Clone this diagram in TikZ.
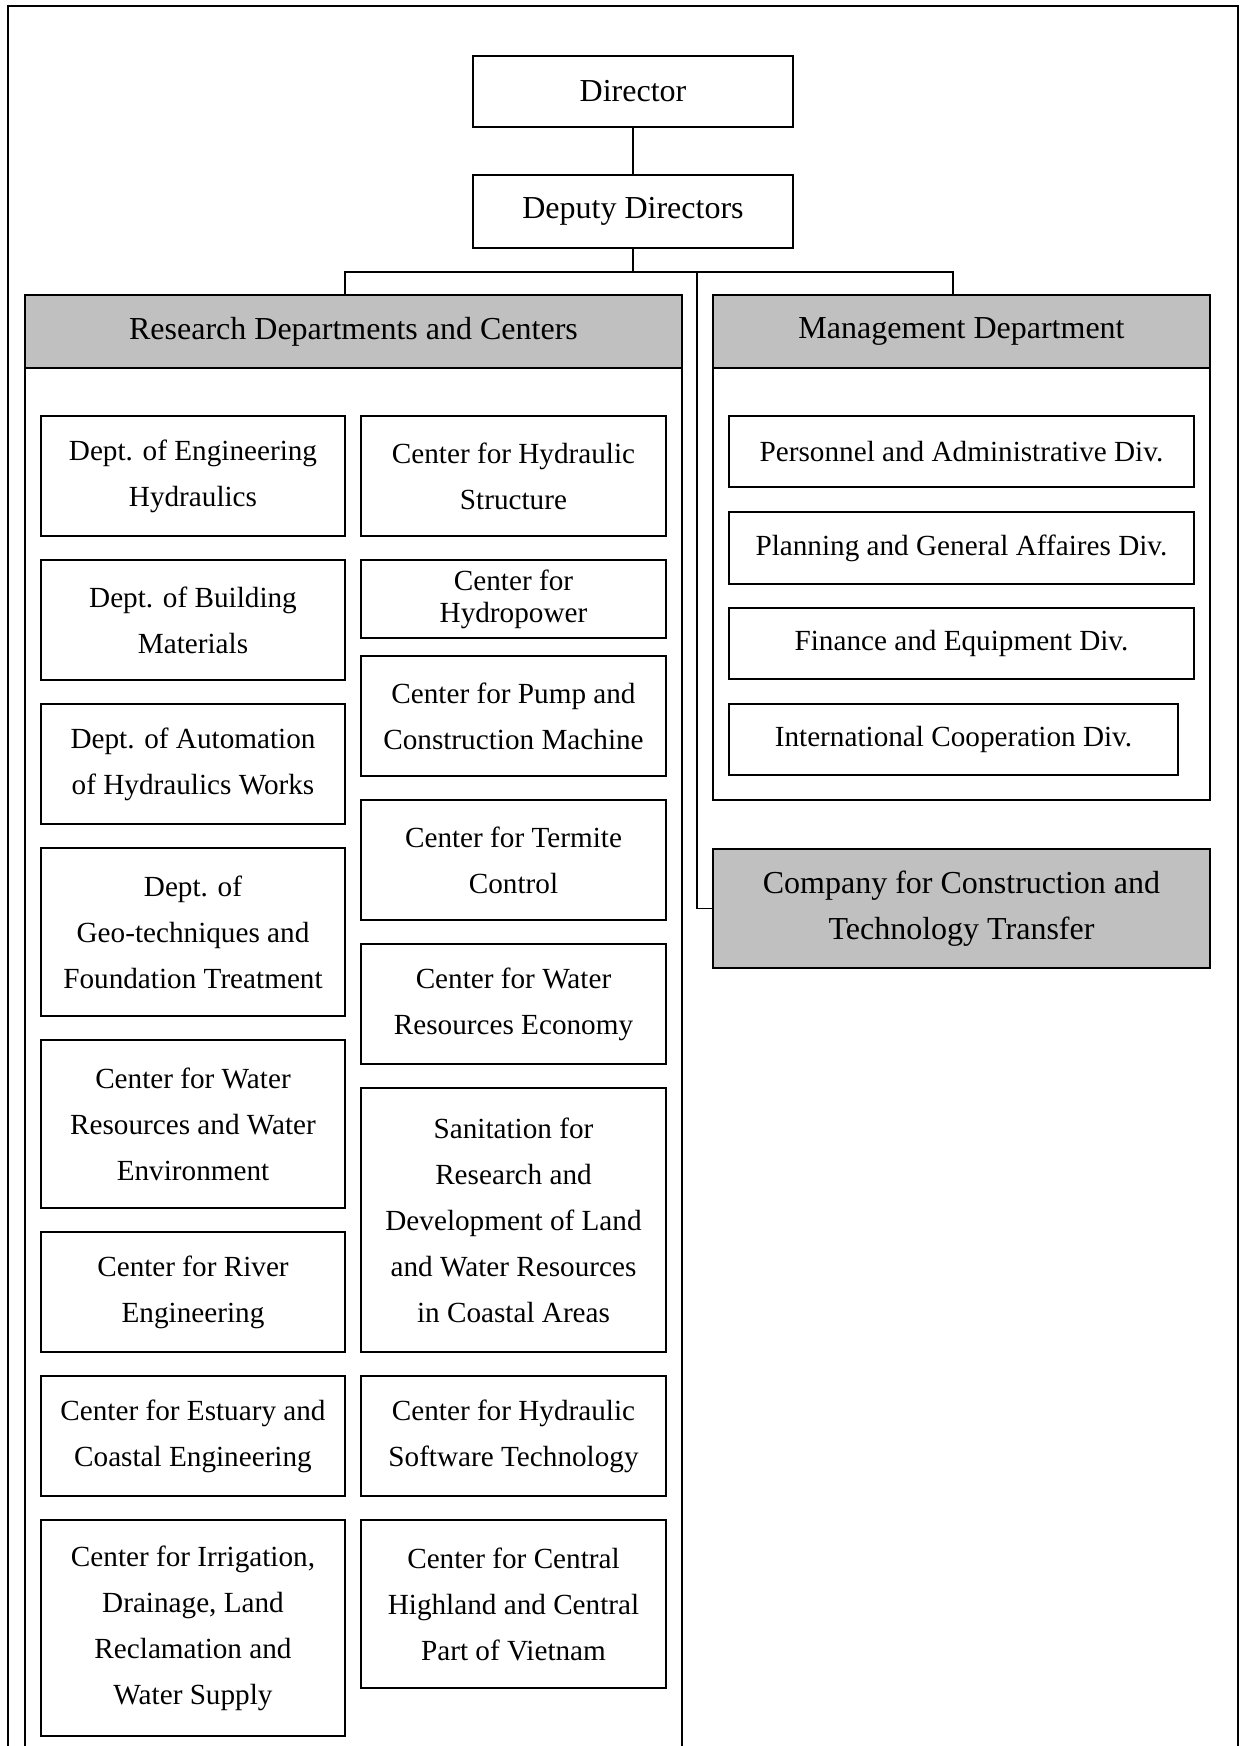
\documentclass[tikz,border=0pt]{standalone}
\usepackage{fontspec}
\setmainfont{Liberation Serif}
\tikzset{
  orgline/.style={line width=0.85pt, black},
  unit/.style={draw, orgline, fill=white, align=center, inner sep=0pt,
    font=\fontsize{14.6pt}{23pt}\selectfont},
  tightunit/.style={unit, font=\fontsize{14.6pt}{16pt}\selectfont},
  topunit/.style={unit, font=\fontsize{16pt}{23pt}\selectfont},
  headunit/.style={unit, fill=headgray, font=\fontsize{16pt}{23pt}\selectfont},
}
\definecolor{headgray}{HTML}{C0C0C0}
% box given by its corners: style, name, x1, y1, x2, y2, text
\newcommand{\orgbox}[7]{%
  \node[#1, minimum width={(#5-#3)*0.5pt}, minimum height={(#6-#4)*0.5pt}]
    (#2) at ({(#3+#5)/2},{(#4+#6)/2}) {#7};}
\begin{document}
\begin{tikzpicture}[x=0.5pt, y=-0.5pt]
  \useasboundingbox (0,0) rectangle (1241,1746);
  \fill[white] (0,0) rectangle (1241,1746);
  \clip (0,0) rectangle (1241,1746);

  % outer frame
  \draw[orgline] (8,1800) -- (8,6) -- (1238,6) -- (1238,1800);

  % top of the hierarchy
  \orgbox{topunit}{dir}{473}{56}{793}{127}{Director}
  \orgbox{topunit}{dep}{473}{175}{793}{248}{Deputy Directors}

  % research departments and centers
  \draw[orgline] (25,368) rectangle (682,1800);
  \orgbox{headunit}{reshead}{25}{295}{682}{368}{Research Departments and Centers}

  \orgbox{unit}{l1}{41}{416}{345}{536}{Dept. of Engineering\\Hydraulics}
  \orgbox{unit}{l2}{41}{560}{345}{680}{Dept. of Building\\Materials}
  \orgbox{unit}{l3}{41}{704}{345}{824}{Dept. of Automation\\of Hydraulics Works}
  \orgbox{unit}{l4}{41}{848}{345}{1016}{Dept. of\\Geo-techniques and\\Foundation Treatment}
  \orgbox{unit}{l5}{41}{1040}{345}{1208}{Center for Water\\Resources and Water\\Environment}
  \orgbox{unit}{l6}{41}{1232}{345}{1352}{Center for River\\Engineering}
  \orgbox{unit}{l7}{41}{1376}{345}{1496}{Center for Estuary and\\Coastal Engineering}
  \orgbox{unit}{l8}{41}{1520}{345}{1736}{Center for Irrigation,\\Drainage, Land\\Reclamation and\\Water Supply}

  \orgbox{unit}{r1}{361}{416}{666}{536}{Center for Hydraulic\\Structure}
  \orgbox{tightunit}{r2}{361}{560}{666}{638}{Center for\\Hydropower}
  \orgbox{unit}{r3}{361}{656}{666}{776}{Center for Pump and\\Construction Machine}
  \orgbox{unit}{r4}{361}{800}{666}{920}{Center for Termite\\Control}
  \orgbox{unit}{r5}{361}{944}{666}{1064}{Center for Water\\Resources Economy}
  \orgbox{unit}{r6}{361}{1088}{666}{1352}{Sanitation for\\Research and\\Development of Land\\and Water Resources\\in Coastal Areas}
  \orgbox{unit}{r7}{361}{1376}{666}{1496}{Center for Hydraulic\\Software Technology}
  \orgbox{unit}{r8}{361}{1520}{666}{1688}{Center for Central\\Highland and Central\\Part of Vietnam}

  % management department
  \draw[orgline] (713,368) rectangle (1210,800);
  \orgbox{headunit}{mgmthead}{713}{295}{1210}{368}{Management Department}
  \orgbox{unit}{m1}{729}{416}{1194}{487}{Personnel and Administrative Div.}
  \orgbox{unit}{m2}{729}{512}{1194}{584}{Planning and General Affaires Div.}
  \orgbox{unit}{m3}{729}{608}{1194}{679}{Finance and Equipment Div.}
  \orgbox{unit}{m4}{729}{704}{1178}{775}{International Cooperation Div.}

  % company
  \orgbox{headunit}{company}{713}{849}{1210}{968}{Company for Construction and\\Technology Transfer}

  % connectors
  \coordinate (busL) at (345,272);
  \coordinate (busC) at (697,272);
  \coordinate (busR) at (953,272);
  \draw[orgline] (dir.south) -- (dep.north);
  \draw[orgline] (dep.south) -- (dep.south |- busL);
  \draw[orgline] (reshead.north -| busL) -- (busL) -- (busR) -- (mgmthead.north -| busR);
  \draw[orgline] (busC) |- (company.west);
\end{tikzpicture}
\end{document}
